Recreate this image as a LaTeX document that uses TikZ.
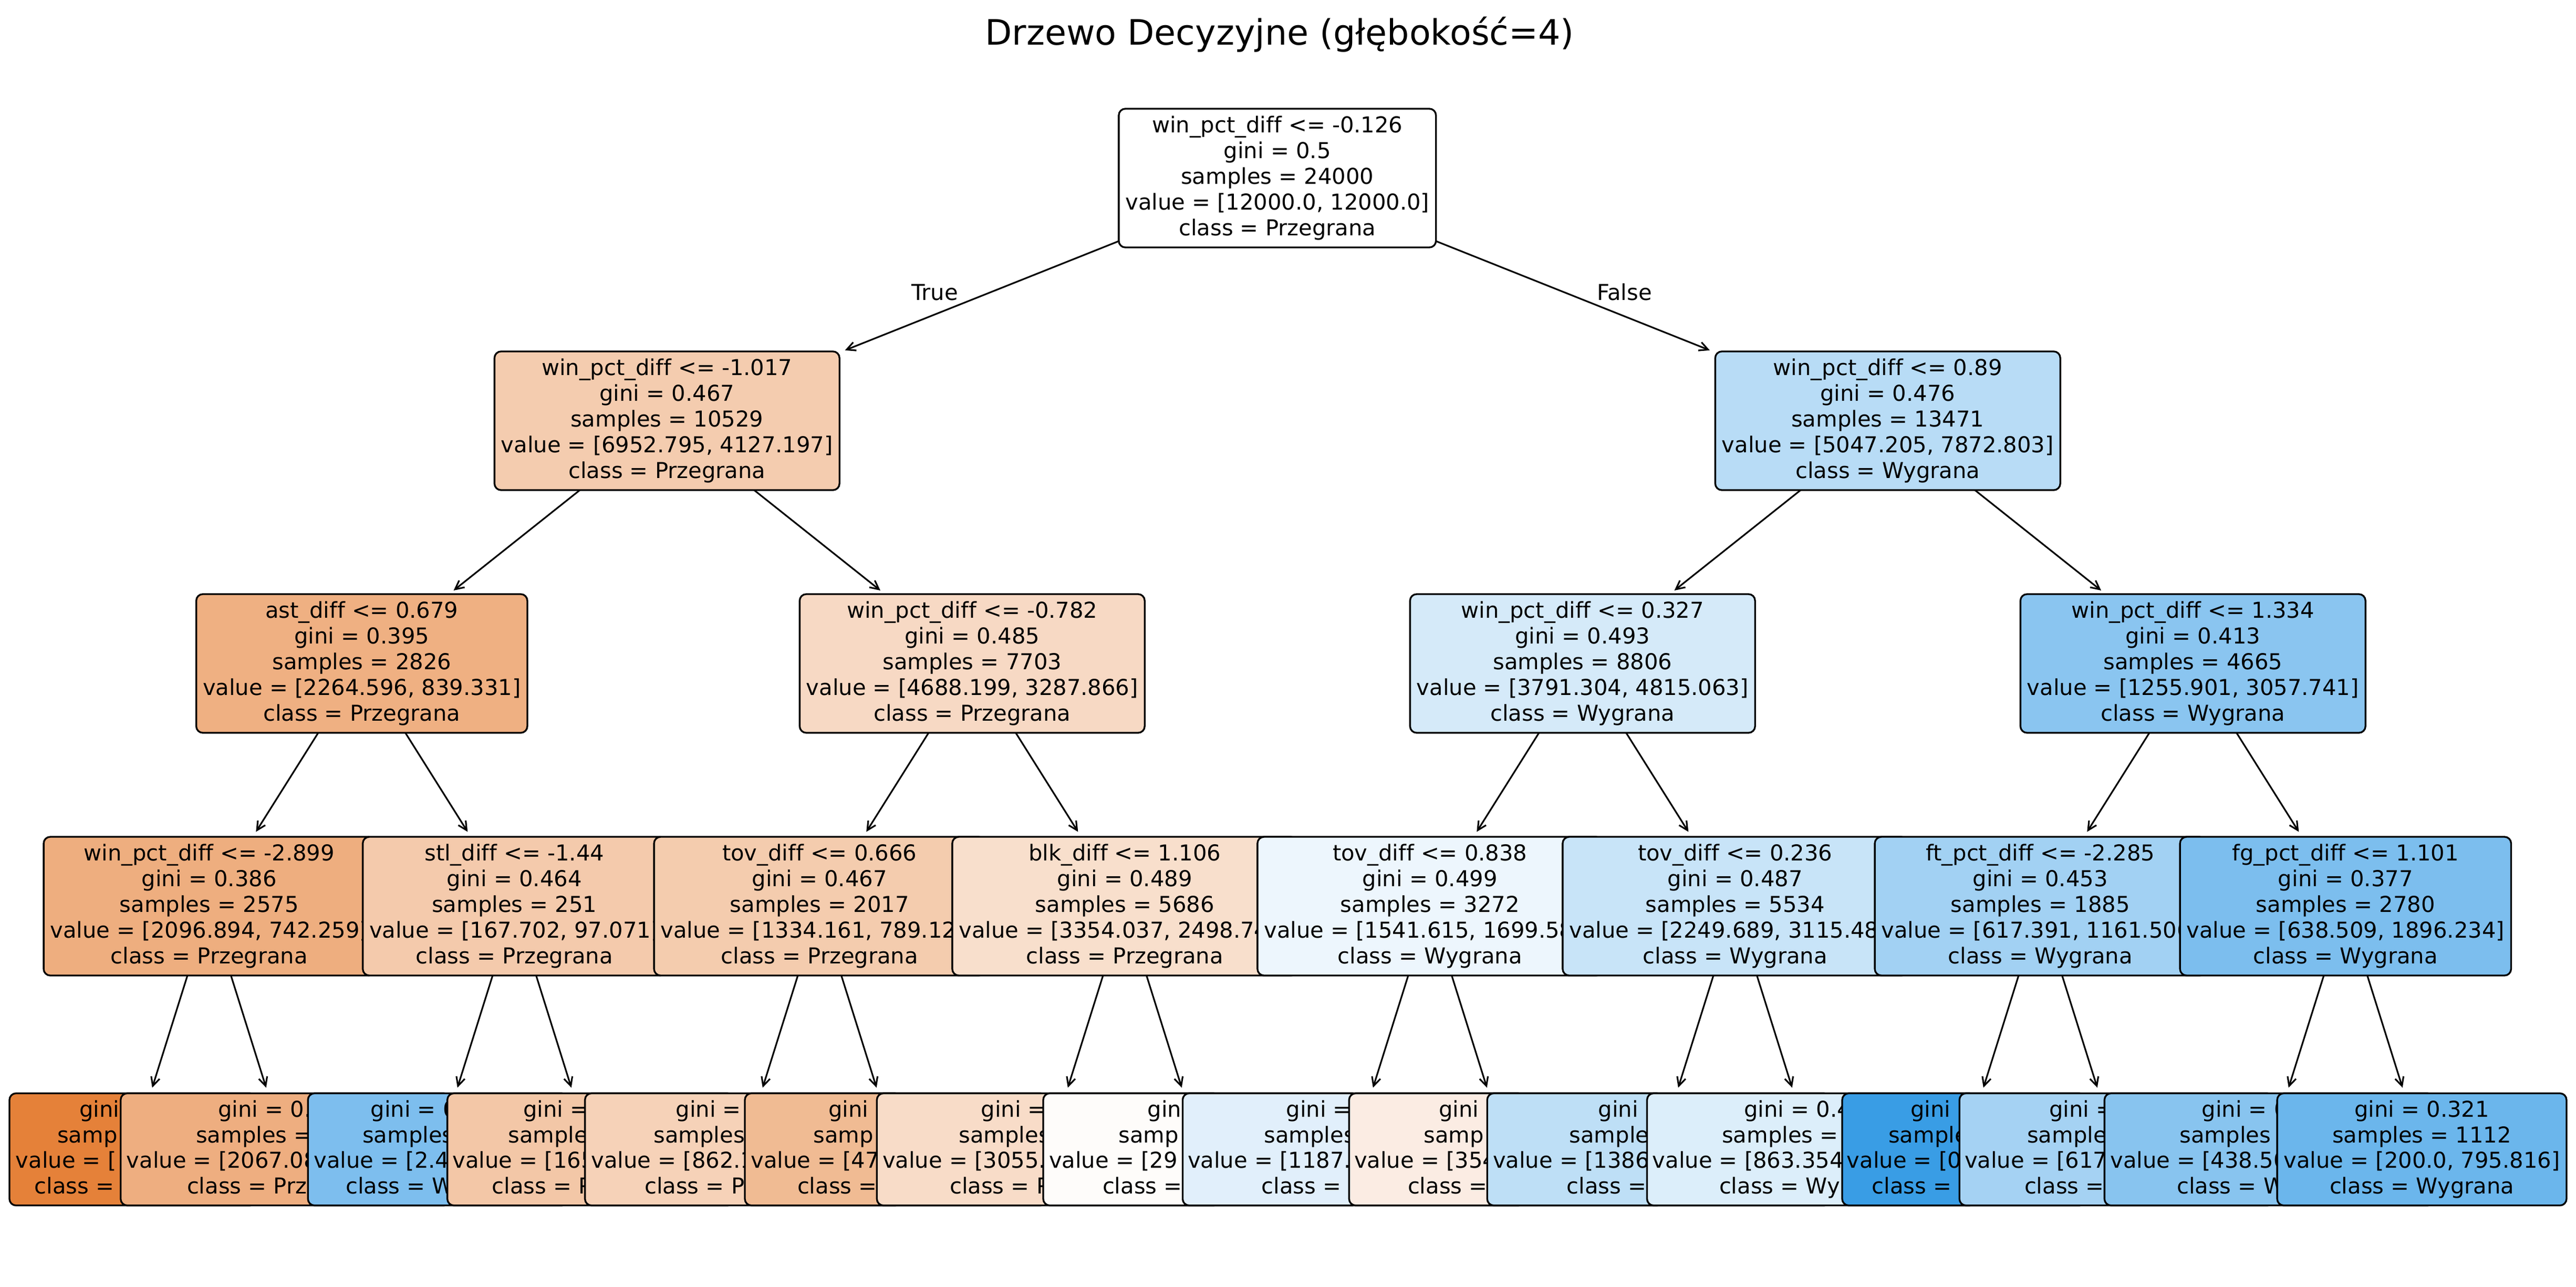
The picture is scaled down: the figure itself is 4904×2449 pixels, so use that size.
\documentclass[tikz,border=0pt]{standalone}
\usepackage{fontspec}
\setmainfont{DejaVu Sans}[Ligatures=NoCommon]
\usetikzlibrary{arrows.meta}
\newcommand{\vishid}[2]{#1\phantom{#2}}
\definecolor{cj1}{RGB}{244,204,175}
\definecolor{cj2}{RGB}{184,220,246}
\definecolor{ck1}{RGB}{239,176,130}
\definecolor{ck2}{RGB}{247,217,196}
\definecolor{ck3}{RGB}{213,234,249}
\definecolor{ck4}{RGB}{138,197,240}
\definecolor{cm1}{RGB}{238,174,127}
\definecolor{cm2}{RGB}{244,202,172}
\definecolor{cm3}{RGB}{244,204,174}
\definecolor{cm4}{RGB}{248,223,204}
\definecolor{cm5}{RGB}{237,246,253}
\definecolor{cm6}{RGB}{200,228,248}
\definecolor{cm7}{RGB}{162,209,243}
\definecolor{cm8}{RGB}{124,190,238}
\definecolor{cl1}{RGB}{229,129,57}
\definecolor{cl2}{RGB}{238,174,128}
\definecolor{cl3}{RGB}{125,190,238}
\definecolor{cl4}{RGB}{243,199,167}
\definecolor{cl5}{RGB}{246,210,184}
\definecolor{cl6}{RGB}{240,187,147}
\definecolor{cl7}{RGB}{248,220,200}
\definecolor{cl8}{RGB}{254,252,250}
\definecolor{cl9}{RGB}{225,239,251}
\definecolor{cl10}{RGB}{251,236,227}
\definecolor{cl11}{RGB}{190,223,246}
\definecolor{cl12}{RGB}{220,238,250}
\definecolor{cl13}{RGB}{57,157,229}
\definecolor{cl14}{RGB}{165,210,243}
\definecolor{cl15}{RGB}{136,196,239}
\definecolor{cl16}{RGB}{107,182,236}
\tikzset{
  box/.style={draw=black, line width=0.8pt, rounded corners=3pt, outer sep=0pt, inner ysep=0pt, align=center, font=\fontsize{10pt}{11.71pt}\selectfont},
  inbox/.style={box, inner xsep=3pt, minimum height=63.36pt},
  leaf/.style={box, inner xsep=0pt, minimum height=51.24pt},
  arr/.style={-{Straight Barb[length=4pt,width=4pt]}, line width=0.75pt, shorten >=2.7pt},
  lbl/.style={anchor=base, inner sep=0pt, font=\fontsize{10pt}{12pt}\selectfont},
}
\begin{document}
\begin{tikzpicture}[x=0.24pt,y=-0.24pt]
\fill[white] (0,0) rectangle (4904,2449);
\useasboundingbox (0,0) rectangle (4904,2449);

\node[anchor=base, inner sep=0pt, font=\fontsize{16pt}{19pt}\selectfont] (title) at (2436,85) {Drzewo Decyzyjne (głębokość=4)};

% root
\node[inbox, fill=white] (r) at (2431.75,339) {win\_pct\_diff <= -0.126\\gini = 0.5\\samples = 24000\\value = [12000.0, 12000.0]\\class = Przegrana};

% level 1
\node[inbox, fill=cj1] (j1) at (1269.75,801) {win\_pct\_diff <= -1.017\\gini = 0.467\\samples = 10529\\value = [6952.795, 4127.197]\\class = Przegrana};
\node[inbox, fill=cj2] (j2) at (3593.75,801) {win\_pct\_diff <= 0.89\\gini = 0.476\\samples = 13471\\value = [5047.205, 7872.803]\\class = Wygrana};

% level 2
\node[inbox, fill=ck1] (k1) at (688.75,1263) {ast\_diff <= 0.679\\gini = 0.395\\samples = 2826\\value = [2264.596, 839.331]\\class = Przegrana};
\node[inbox, fill=ck2] (k2) at (1850.75,1263) {win\_pct\_diff <= -0.782\\gini = 0.485\\samples = 7703\\value = [4688.199, 3287.866]\\class = Przegrana};
\node[inbox, fill=ck3] (k3) at (3012.75,1263) {win\_pct\_diff <= 0.327\\gini = 0.493\\samples = 8806\\value = [3791.304, 4815.063]\\class = Wygrana};
\node[inbox, fill=ck4] (k4) at (4174.75,1263) {win\_pct\_diff <= 1.334\\gini = 0.413\\samples = 4665\\value = [1255.901, 3057.741]\\class = Wygrana};

% level 3
\node[inbox, fill=cm1] (m1) at (398.25,1725) {win\_pct\_diff <= -2.899\\gini = 0.386\\samples = 2575\\value = [2096.894, 742.259]\\class = Przegrana};
\node[inbox, fill=cm2] (m2) at (979.25,1725) {stl\_diff <= -1.44\\gini = 0.464\\samples = 251\\value = [167.702, 97.071]\\class = Przegrana};
\node[inbox, fill=cm3] (m3) at (1560.25,1725) {tov\_diff <= 0.666\\gini = 0.467\\samples = 2017\\\vishid{value = [1334.161, 789.12}{2]}\\class = Przegrana};
\node[inbox, fill=cm4] (m4) at (2141.25,1725) {blk\_diff <= 1.106\\gini = 0.489\\samples = 5686\\\vishid{value = [3354.037, 2498.74}{4]}\\class = Przegrana};
\node[inbox, fill=cm5] (m5) at (2722.25,1725) {tov\_diff <= 0.838\\gini = 0.499\\samples = 3272\\\vishid{value = [1541.615, 1699.58}{1]}\\class = Wygrana};
\node[inbox, fill=cm6] (m6) at (3303.25,1725) {tov\_diff <= 0.236\\gini = 0.487\\samples = 5534\\\vishid{value = [2249.689, 3115.48}{2]}\\class = Wygrana};
\node[inbox, fill=cm7] (m7) at (3884.25,1725) {ft\_pct\_diff <= -2.285\\gini = 0.453\\samples = 1885\\\vishid{value = [617.391, 1161.506}{]}\\class = Wygrana};
\node[inbox, fill=cm8] (m8) at (4465.25,1725) {fg\_pct\_diff <= 1.101\\gini = 0.377\\samples = 2780\\value = [638.509, 1896.234]\\class = Wygrana};

% leaves
\node[leaf, fill=cl1, minimum width=470*0.24pt] (l1) at (253,2188) {\vishid{gini}{ = 0.0}\\\vishid{samp}{les = 28}\\\vishid{value = [}{29.812, 0.0]}\\\vishid{class =}{ Przegrana}};
\node[leaf, fill=cl2, minimum width=627.6*0.24pt] (l2) at (543.5,2188) {\vishid{gini = 0.}{389}\\\vishid{samples =}{ 2547}\\\vishid{value = [2067.08}{2, 742.259]}\\\vishid{class = Prz}{egrana}};
\node[leaf, fill=cl3, minimum width=495.6*0.24pt] (l3) at (834,2188) {\vishid{gini = 0}{.381}\\\vishid{samples}{ = 10}\\\vishid{value = [2.4}{36, 7.124]}\\\vishid{class = W}{ygrana}};
\node[leaf, fill=cl4, minimum width=545.8*0.24pt] (l4) at (1124.5,2188) {\vishid{gini =}{ 0.456}\\\vishid{sample}{s = 241}\\\vishid{value = [165}{.266, 89.95]}\\\vishid{class = P}{rzegrana}};
\node[leaf, fill=cl5, minimum width=602.8*0.24pt] (l5) at (1415,2188) {\vishid{gini =}{ 0.485}\\\vishid{samples}{ = 1402}\\\vishid{value = [862.1}{06, 614.355]}\\\vishid{class = P}{rzegrana}};
\node[leaf, fill=cl6, minimum width=575*0.24pt] (l6) at (1705.5,2188) {\vishid{gini}{ = 0.431}\\\vishid{samp}{les = 615}\\\vishid{value = [47}{2.055, 74.771]}\\\vishid{class =}{ Przegrana}};
\node[leaf, fill=cl7, minimum width=653.4*0.24pt] (l7) at (1996,2188) {\vishid{gini =}{ 0.487}\\\vishid{samples}{ = 5040}\\\vishid{value = [3055.}{133, 2203.712]}\\\vishid{class = P}{rzegrana}};
\node[leaf, fill=cl8, minimum width=601*0.24pt] (l8) at (2286.5,2188) {\vishid{gin}{i = 0.5}\\\vishid{samp}{les = 646}\\\vishid{value = [29}{8.904, 294.912]}\\\vishid{class =}{ Przegrana}};
\node[leaf, fill=cl9, minimum width=651.2*0.24pt] (l9) at (2577,2188) {\vishid{gini =}{ 0.497}\\\vishid{samples}{ = 2521}\\\vishid{value = [1187.}{481, 1398.712]}\\\vishid{class =}{ Wygrana}};
\node[leaf, fill=cl10, minimum width=598.4*0.24pt] (l10) at (2867.5,2188) {\vishid{gini}{ = 0.497}\\\vishid{samp}{les = 751}\\\vishid{value = [354}{.134, 300.868]}\\\vishid{class =}{ Przegrana}};
\node[leaf, fill=cl11, minimum width=653.6*0.24pt] (l11) at (3158,2188) {\vishid{gini}{ = 0.48}\\\vishid{sample}{s = 3462}\\\vishid{value = [1386}{.335, 2069.112]}\\\vishid{class =}{ Wygrana}};
\node[leaf, fill=cl12, minimum width=626*0.24pt] (l12) at (3448.5,2188) {\vishid{gini = 0.4}{95}\\\vishid{samples =}{ 2072}\\\vishid{value = [863.354}{, 1046.126]}\\\vishid{class = Wy}{grana}};
\node[leaf, fill=cl13, minimum width=464*0.24pt] (l13) at (3739,2188) {\vishid{gini}{ = 0.0}\\\vishid{sample}{s = 21}\\\vishid{value = [0}{.0, 24.876]}\\\vishid{class =}{ Wygrana}};
\node[leaf, fill=cl14, minimum width=598.6*0.24pt] (l14) at (4029.5,2188) {\vishid{gini =}{ 0.456}\\\vishid{sample}{s = 1864}\\\vishid{value = [617}{.391, 1135.03]}\\\vishid{class =}{ Wygrana}};
\node[leaf, fill=cl15, minimum width=627.4*0.24pt] (l15) at (4320,2188) {\vishid{gini = 0}{.408}\\\vishid{samples}{ = 1668}\\\vishid{value = [438.50}{9, 1100.418]}\\\vishid{class = W}{ygrana}};
\node[leaf, fill=cl16, inner xsep=3pt] (l16) at (4610.5,2188) {gini = 0.321\\samples = 1112\\value = [200.0, 795.816]\\class = Wygrana};

% labels
\node[lbl] (ltrue) at (1779.5,571) {True};
\node[lbl] (lfalse) at (3092.5,571) {False};

% connectors
\draw[arr] (r) -- (j1);
\draw[arr] (r) -- (j2);
\draw[arr] (j1) -- (k1);
\draw[arr] (j1) -- (k2);
\draw[arr] (j2) -- (k3);
\draw[arr] (j2) -- (k4);
\draw[arr] (k1) -- (m1);
\draw[arr] (k1) -- (m2);
\draw[arr] (k2) -- (m3);
\draw[arr] (k2) -- (m4);
\draw[arr] (k3) -- (m5);
\draw[arr] (k3) -- (m6);
\draw[arr] (k4) -- (m7);
\draw[arr] (k4) -- (m8);
\draw[arr] (m1) -- (l1);
\draw[arr] (m1) -- (l2);
\draw[arr] (m2) -- (l3);
\draw[arr] (m2) -- (l4);
\draw[arr] (m3) -- (l5);
\draw[arr] (m3) -- (l6);
\draw[arr] (m4) -- (l7);
\draw[arr] (m4) -- (l8);
\draw[arr] (m5) -- (l9);
\draw[arr] (m5) -- (l10);
\draw[arr] (m6) -- (l11);
\draw[arr] (m6) -- (l12);
\draw[arr] (m7) -- (l13);
\draw[arr] (m7) -- (l14);
\draw[arr] (m8) -- (l15);
\draw[arr] (m8) -- (l16);
\end{tikzpicture}
\end{document}
